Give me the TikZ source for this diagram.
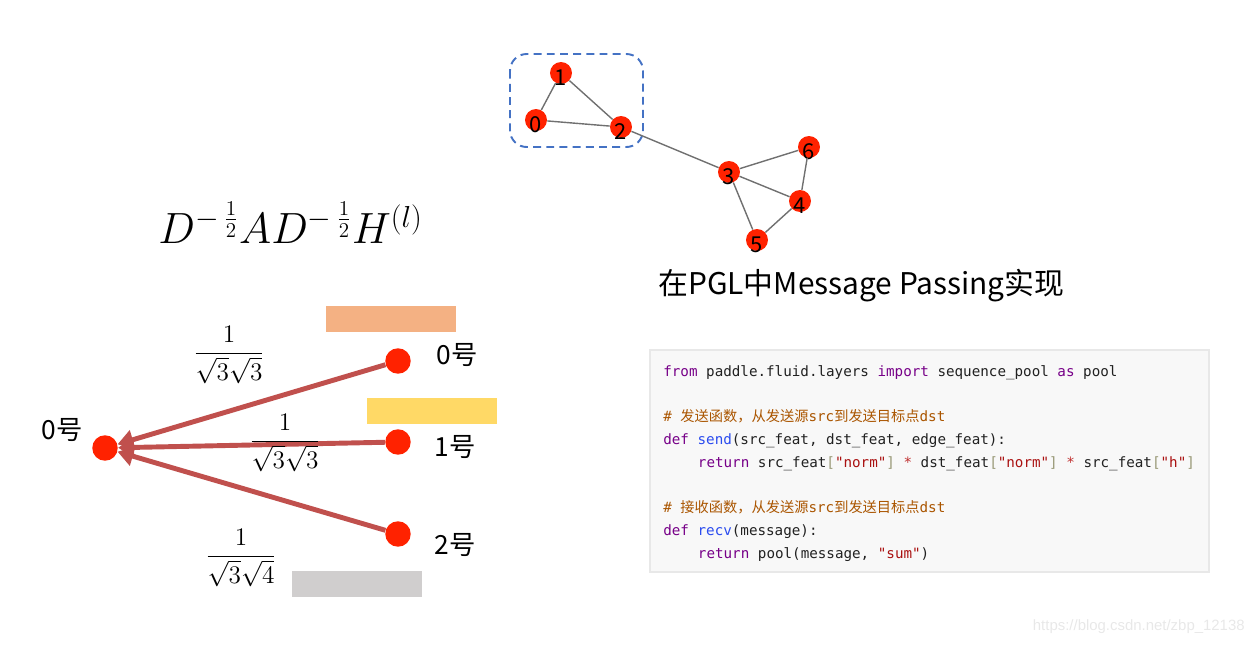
\documentclass[tikz,border=0pt]{standalone}
\usepackage{fontspec}
\usepackage{amsmath}
\usetikzlibrary{arrows.meta,positioning}
\newfontfamily\cjk{Noto Sans CJK SC}
\newfontfamily\codett{DejaVu Sans Mono}
\newfontfamily\wmfont{Liberation Sans}
\definecolor{dotred}{HTML}{FF2200}
\definecolor{arrowred}{HTML}{C0504D}
\definecolor{boxblue}{HTML}{4472C4}
\definecolor{edgegray}{HTML}{707070}
\definecolor{barorange}{HTML}{F4B183}
\definecolor{baryellow}{HTML}{FFD966}
\definecolor{bargray}{HTML}{D0CECE}
\definecolor{codebg}{HTML}{F8F8F8}
\definecolor{codeborder}{HTML}{E8E8E8}
\definecolor{kwpurple}{HTML}{770088}
\definecolor{fnblue}{HTML}{2A4BEF}
\definecolor{combrown}{HTML}{AA5500}
\definecolor{strred}{HTML}{AA1111}
\definecolor{brgray}{HTML}{999977}
\definecolor{opred}{HTML}{C03030}
\newcommand{\Ckw}[1]{\textcolor{kwpurple}{#1}}
\newcommand{\Cfn}[1]{\textcolor{fnblue}{#1}}
\newcommand{\Ccom}[1]{\textcolor{combrown}{#1}}
\newcommand{\Cstr}[1]{\textcolor{strred}{#1}}
\newcommand{\Cbr}[1]{\textcolor{brgray}{#1}}
\newcommand{\Cop}[1]{\textcolor{opred}{#1}}
\begin{document}
\begin{tikzpicture}[x=0.02cm,y=-0.02cm,
  gnode/.style={circle,fill=dotred,draw=none,inner sep=0pt,minimum size=12.5pt},
  gnum/.style={font=\cjk\fontsize{12.5}{12.5}\selectfont,inner sep=0pt,yshift=-2.8pt},
  gedge/.style={-,draw=edgegray,line width=0.8pt},
  mdot/.style={circle,fill=dotred,draw=none,inner sep=0pt,minimum size=14.5pt},
  mlabel/.style={font=\cjk\fontsize{15}{18}\selectfont,inner sep=0pt},
  msgarrow/.style={-{Triangle[length=9pt,width=11pt]},draw=arrowred,line width=2.8pt},
  wfrac/.style={font=\fontsize{15.5}{19}\selectfont,inner sep=0pt},
  colorbar/.style={draw=none,minimum width=130*0.567pt,minimum height=26*0.567pt,inner sep=0pt},
  codeline/.style={anchor=base west,inner sep=0pt,font=\codett\fontsize{8.1}{10}\selectfont,text=black!87}]
\useasboundingbox (0,0) rectangle (1255,646);
% graph
\draw[boxblue,line width=1.1pt,dash pattern=on 4.5pt off 3pt,rounded corners=9.5pt] (510,54) rectangle (643,147);
\node (g0) [gnode,label={[gnum]center:0}] at (536,120) {};
\node (g1) [gnode,label={[gnum]center:1}] at (561,73) {};
\node (g2) [gnode,label={[gnum]center:2}] at (621,127) {};
\node (g3) [gnode,label={[gnum]center:3}] at (729,172) {};
\node (g4) [gnode,label={[gnum]center:4}] at (800,201) {};
\node (g5) [gnode,label={[gnum]center:5}] at (757,240) {};
\node (g6) [gnode,label={[gnum]center:6}] at (809,147) {};
\path[gedge] (g0) edge (g1);
\path[gedge] (g0) edge (g2);
\path[gedge] (g1) edge (g2);
\path[gedge] (g2) edge (g3);
\path[gedge] (g3) edge (g6);
\path[gedge] (g3) edge (g4);
\path[gedge] (g3) edge (g5);
\path[gedge] (g4) edge (g6);
\path[gedge] (g4) edge (g5);
%
\node (formula) [anchor=base west,inner sep=0pt,font=\fontsize{24}{29}\selectfont] at (158,243) {$D^{-\,\frac{1}{2}}AD^{-\,\frac{1}{2}}H^{(l)}$};
\node (title) [anchor=west,inner sep=0pt,font=\cjk\fontsize{17}{20}\selectfont] at (658,286) {在PGL中Message Passing实现};
% message passing
\node (bar0) [colorbar,fill=barorange] at (391,319) {};
\node (bar1) [colorbar,fill=baryellow] at (432,411) {};
\node (bar2) [colorbar,fill=bargray] at (357,584) {};
\node (t0) [mdot] at (105,448) {};
\node (s0) [mdot] at (398,361) {};
\node (s1) [mdot] at (398,442) {};
\node (s2) [mdot] at (398,534) {};
\node (lt0) [mlabel] at (62,430) {0号};
\node (ls0) [mlabel] at (457,355) {0号};
\node (ls1) [mlabel] at (455,447) {1号};
\node (ls2) [mlabel] at (455,545) {2号};
\draw[msgarrow] (s0) -- (t0);
\draw[msgarrow] (s1) -- (t0);
\draw[msgarrow] (s2) -- (t0);
\node (w0) [wfrac] at (229,355) {$\dfrac{1}{\sqrt{3}\sqrt{3}}$};
\node (w1) [wfrac] at (285,443) {$\dfrac{1}{\sqrt{3}\sqrt{3}}$};
\node (w2) [wfrac] at (241,558) {$\dfrac{1}{\sqrt{3}\sqrt{4}}$};
% code
\draw[fill=codebg,draw=codeborder,line width=0.6pt] (650,350) rectangle (1209,572);
\node (c1) [codeline] at (663,376) {\Ckw{from} paddle.fluid.layers \Ckw{import} sequence\_pool \Ckw{as} pool};
\node (c2) [codeline] at (663,421) {\Ccom{\# {\cjk 发送函数，从发送源}src{\cjk 到发送目标点}dst}};
\node (c3) [codeline] at (663,444) {\Ckw{def} \Cfn{send}(src\_feat, dst\_feat, edge\_feat):};
\node (c4) [codeline] at (697.6,467) {\Ckw{return} src\_feat\Cbr{[}\Cstr{"norm"}\Cbr{]} \Cop{*} dst\_feat\Cbr{[}\Cstr{"norm"}\Cbr{]} \Cop{*} src\_feat\Cbr{[}\Cstr{"h"}\Cbr{]}};
\node (c5) [codeline] at (663,512) {\Ccom{\# {\cjk 接收函数，从发送源}src{\cjk 到发送目标点}dst}};
\node (c6) [codeline] at (663,535) {\Ckw{def} \Cfn{recv}(message):};
\node (c7) [codeline] at (697.6,558) {\Ckw{return} pool(message, \Cstr{"sum"})};
\node (wm) [anchor=east,inner sep=0pt,text=black!9,font=\wmfont\fontsize{8.5}{10}\selectfont] at (1245,627) {https://blog.csdn.net/zbp\_12138};
\end{tikzpicture}
\end{document}
